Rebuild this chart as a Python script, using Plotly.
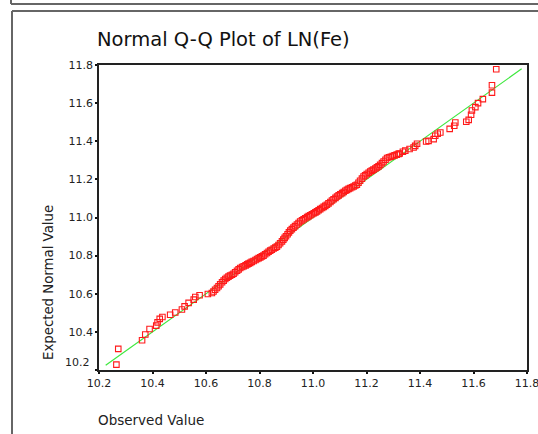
import plotly.graph_objects as go

observed = [
    10.265, 10.272, 10.361, 10.373, 10.389, 10.414, 10.419, 10.427, 10.437, 10.466,
    10.485, 10.510, 10.520, 10.535, 10.554, 10.560, 10.576, 10.607, 10.622,
    10.628, 10.634, 10.641, 10.647, 10.653, 10.660, 10.666, 10.672, 10.678, 10.684,
    10.690, 10.697, 10.703, 10.709, 10.716, 10.722, 10.728, 10.735, 10.741, 10.748,
    10.754, 10.759, 10.765, 10.771, 10.778, 10.785, 10.791, 10.797, 10.803, 10.809,
    10.815, 10.821, 10.828, 10.834, 10.840, 10.846, 10.853, 10.859, 10.865, 10.871,
    10.877, 10.884, 10.889, 10.894, 10.899, 10.905, 10.910, 10.915, 10.921, 10.927,
    10.933, 10.940, 10.946, 10.952, 10.959, 10.965, 10.971, 10.978, 10.984, 10.990,
    10.996, 11.003, 11.009, 11.015, 11.021, 11.027, 11.034, 11.040, 11.046, 11.052,
    11.058, 11.065, 11.071, 11.077, 11.084, 11.090, 11.096, 11.102, 11.109, 11.115,
    11.121, 11.127, 11.133, 11.139, 11.146, 11.152, 11.158, 11.164, 11.170, 11.176,
    11.183, 11.189, 11.195, 11.201, 11.208, 11.214, 11.220, 11.226, 11.233, 11.239,
    11.245, 11.251, 11.258, 11.264, 11.271, 11.277, 11.284, 11.291, 11.298, 11.305,
    11.313, 11.320,
    11.324, 11.336, 11.345, 11.361, 11.376, 11.382, 11.389, 11.423, 11.432, 11.451,
    11.457, 11.466, 11.476, 11.511, 11.528, 11.532, 11.573, 11.582, 11.591, 11.594,
    11.607, 11.617, 11.635, 11.669, 11.669, 11.685,
]
expected = [
    10.228, 10.311, 10.356, 10.386, 10.415, 10.433, 10.450, 10.468, 10.478, 10.490,
    10.502, 10.517, 10.534, 10.552, 10.569, 10.583, 10.592, 10.599, 10.604,
    10.612, 10.621, 10.630, 10.639, 10.649, 10.660, 10.669, 10.677, 10.684, 10.690,
    10.695, 10.700, 10.705, 10.713, 10.721, 10.728, 10.735, 10.740, 10.744, 10.749,
    10.754, 10.758, 10.762, 10.767, 10.772, 10.777, 10.782, 10.787, 10.791, 10.796,
    10.800, 10.807, 10.814, 10.820, 10.826, 10.831, 10.837, 10.842, 10.847, 10.856,
    10.865, 10.875, 10.884, 10.893, 10.902, 10.912, 10.922, 10.931, 10.939, 10.947,
    10.955, 10.963, 10.971, 10.979, 10.985, 10.991, 10.996, 11.002, 11.007, 11.012,
    11.017, 11.022, 11.027, 11.032, 11.038, 11.044, 11.050, 11.056, 11.061, 11.067,
    11.074, 11.081, 11.089, 11.096, 11.103, 11.110, 11.116, 11.122, 11.128, 11.134,
    11.140, 11.145, 11.150, 11.154, 11.159, 11.163, 11.168, 11.172, 11.182, 11.193,
    11.204, 11.215, 11.221, 11.228, 11.235, 11.241, 11.246, 11.251, 11.257, 11.263,
    11.268, 11.276, 11.285, 11.294, 11.303, 11.312, 11.316, 11.319, 11.323, 11.326,
    11.330, 11.334,
    11.336, 11.345, 11.351, 11.359, 11.367, 11.376, 11.387, 11.399, 11.402, 11.411,
    11.429, 11.439, 11.446, 11.465, 11.481, 11.498, 11.502, 11.512, 11.539, 11.561,
    11.579, 11.600, 11.621, 11.655, 11.694, 11.778,
]

# Reference line (expected = observed)
line_x = [10.225, 11.78]
line_y = [10.225, 11.78]

tick_vals = [10.2, 10.4, 10.6, 10.8, 11.0, 11.2, 11.4, 11.6, 11.8]
x_tick_text = ["10.2", "10.4", "10.6", "10.8", "11.0", "11.2", "11.4", "11.6", "11.8"]
y_tick_text = ["", "10.4", "10.6", "10.8", "11.0", "11.2", "11.4", "11.6", "11.8"]

FONT = "DejaVu Sans"

fig = go.Figure()
fig.add_trace(go.Scatter(
    x=line_x, y=line_y, mode="lines",
    line=dict(color="#3ee83e", width=1.2), hoverinfo="skip", showlegend=False,
))
fig.add_trace(go.Scatter(
    x=observed, y=expected, mode="markers",
    marker=dict(symbol="square-open", size=5.5, color="#ff1a1a", line=dict(width=1.1, color="#ff1a1a")),
    showlegend=False,
))

W, H = 538, 434
L, T = 99, 65
R = W - 527
B = H - 370
PW, PH = W - L - R, H - T - B


def px(xp):
    return (xp - L) / PW


def py(yp):
    return (H - B - yp) / PH


axis_common = dict(
    showgrid=False, zeroline=False, showline=True, mirror=True,
    linecolor="#222222", linewidth=1.5, automargin=False,
    ticks="outside", ticklen=2, tickwidth=2, tickcolor="#111111",
    tickfont=dict(family=FONT, size=11, color="#222222"),
    ticklabeloverflow="allow",
    tickvals=tick_vals, range=[10.2, 11.8],
)

fig.update_layout(
    width=W, height=H,
    margin=dict(l=L, r=R, t=T, b=B, autoexpand=False),
    paper_bgcolor="white", plot_bgcolor="white",
    xaxis=dict(**axis_common, ticktext=x_tick_text),
    yaxis=dict(**axis_common, ticktext=y_tick_text),
    showlegend=False,
    font=dict(family=FONT, color="#222222"),
)

annotations = [
    dict(text="Normal Q-Q Plot of LN(Fe)", x=px(95), y=py(40), xanchor="left", yanchor="middle",
         font=dict(family=FONT, size=19.5, color="#111111")),
    dict(text="Expected Normal Value", x=px(48), y=py(283), xanchor="center", yanchor="middle",
         textangle=-90, font=dict(family=FONT, size=13.3, color="#222222")),
    dict(text="Observed Value", x=px(96), y=py(420), xanchor="left", yanchor="middle",
         font=dict(family=FONT, size=13.5, color="#222222")),
    dict(text="10.2", x=px(92), y=py(362), xanchor="right", yanchor="middle",
         font=dict(family=FONT, size=11, color="#222222")),
]
for a in annotations:
    a.update(xref="paper", yref="paper", showarrow=False)
fig.update_layout(annotations=annotations)

# outer window frames
frame_col = "#666666"
fig.add_shape(type="line", xref="paper", yref="paper", x0=px(11), y0=py(-2), x1=px(11), y1=py(4),
              line=dict(color=frame_col, width=2))
fig.add_shape(type="line", xref="paper", yref="paper", x0=px(11), y0=py(4), x1=px(545), y1=py(4),
              line=dict(color=frame_col, width=2))
fig.add_shape(type="line", xref="paper", yref="paper", x0=px(12), y0=py(11), x1=px(545), y1=py(11),
              line=dict(color=frame_col, width=2))
fig.add_shape(type="line", xref="paper", yref="paper", x0=px(12), y0=py(11), x1=px(12), y1=py(445),
              line=dict(color=frame_col, width=2))

fig.write_html(
    "out.html",
    config={"displayModeBar": False, "responsive": False},
    post_script=(
        "document.documentElement.style.overflow='hidden';"
        "document.body.style.margin='0';document.body.style.overflow='hidden';"
    ),
)
